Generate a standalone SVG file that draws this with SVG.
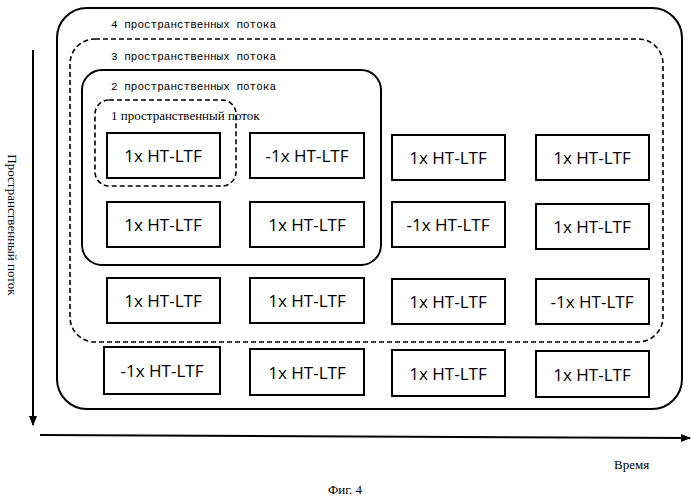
<svg xmlns="http://www.w3.org/2000/svg" width="691" height="500" viewBox="0 0 691 500">
<style>
.b{fill:#fff;stroke:#000;stroke-width:2}
.t{font-family:"Open Sans","DejaVu Sans",sans-serif;font-size:17px;text-anchor:middle}
.m{font-family:"Liberation Mono",monospace;font-size:11px}
.s{font-family:"Liberation Serif",serif;font-size:13px}
.g{fill:none;stroke:#000;stroke-width:2}
.d{fill:none;stroke:#000;stroke-width:1.6;stroke-dasharray:5,3}
</style>
<defs><marker id="a" markerWidth="10" markerHeight="8" refX="9" refY="4" orient="auto" markerUnits="userSpaceOnUse"><path d="M0,0L10,4L0,8z"/></marker></defs>
<rect width="691" height="500" fill="#fff"/>
<g id="groups">
<rect class="g" x="57" y="8" width="625" height="401" rx="30"/>
<rect class="d" x="70" y="39" width="593" height="303" rx="25"/>
<rect class="g" x="82" y="70" width="299" height="195" rx="20"/>
<rect class="d" x="95" y="100" width="141" height="86" rx="14"/>
<text class="m" x="111" y="28">4 пространственных потока</text>
<text class="m" x="111" y="60">3 пространственных потока</text>
<text class="m" x="111" y="90">2 пространственных потока</text>
<text class="s" x="111" y="120">1 пространственный поток</text>
</g>
<g id="n11"><rect class="b" x="107" y="133" width="113" height="45"/><text class="t" x="163" y="162">1x HT-LTF</text></g>
<g id="n12"><rect class="b" x="250" y="133" width="114" height="45"/><text class="t" x="307" y="162">-1x HT-LTF</text></g>
<g id="n13"><rect class="b" x="392" y="135" width="113" height="45"/><text class="t" x="448" y="164">1x HT-LTF</text></g>
<g id="n14"><rect class="b" x="536" y="135" width="113" height="45"/><text class="t" x="592" y="164">1x HT-LTF</text></g>
<g id="n21"><rect class="b" x="107" y="202" width="113" height="45"/><text class="t" x="163" y="231">1x HT-LTF</text></g>
<g id="n22"><rect class="b" x="250" y="202" width="114" height="45"/><text class="t" x="307" y="231">1x HT-LTF</text></g>
<g id="n23"><rect class="b" x="392" y="202" width="113" height="45"/><text class="t" x="448" y="231">-1x HT-LTF</text></g>
<g id="n24"><rect class="b" x="536" y="204" width="113" height="45"/><text class="t" x="592" y="233">1x HT-LTF</text></g>
<g id="n31"><rect class="b" x="107" y="278" width="113" height="45"/><text class="t" x="163" y="307">1x HT-LTF</text></g>
<g id="n32"><rect class="b" x="250" y="278" width="114" height="45"/><text class="t" x="307" y="307">1x HT-LTF</text></g>
<g id="n33"><rect class="b" x="392" y="279" width="113" height="45"/><text class="t" x="448" y="308">1x HT-LTF</text></g>
<g id="n34"><rect class="b" x="536" y="279" width="113" height="45"/><text class="t" x="592" y="308">-1x HT-LTF</text></g>
<g id="n41"><rect class="b" x="104" y="347" width="116" height="47"/><text class="t" x="162" y="377">-1x HT-LTF</text></g>
<g id="n42"><rect class="b" x="250" y="349" width="114" height="46"/><text class="t" x="307" y="379">1x HT-LTF</text></g>
<g id="n43"><rect class="b" x="392" y="350" width="113" height="46"/><text class="t" x="448" y="380">1x HT-LTF</text></g>
<g id="n44"><rect class="b" x="536" y="351" width="113" height="46"/><text class="t" x="592" y="381">1x HT-LTF</text></g>
<g id="connectors">
<line x1="33" y1="50" x2="33" y2="425" stroke="#000" stroke-width="2" marker-end="url(#a)"/>
<line x1="40" y1="435" x2="690" y2="438" stroke="#000" stroke-width="2" marker-end="url(#a)"/>
</g>
<text class="s" transform="translate(8,225) rotate(90)" text-anchor="middle">Пространственный поток</text>
<text class="s" x="614" y="469">Время</text>
<text class="s" x="345" y="494" text-anchor="middle">Фиг. 4</text>
</svg>
